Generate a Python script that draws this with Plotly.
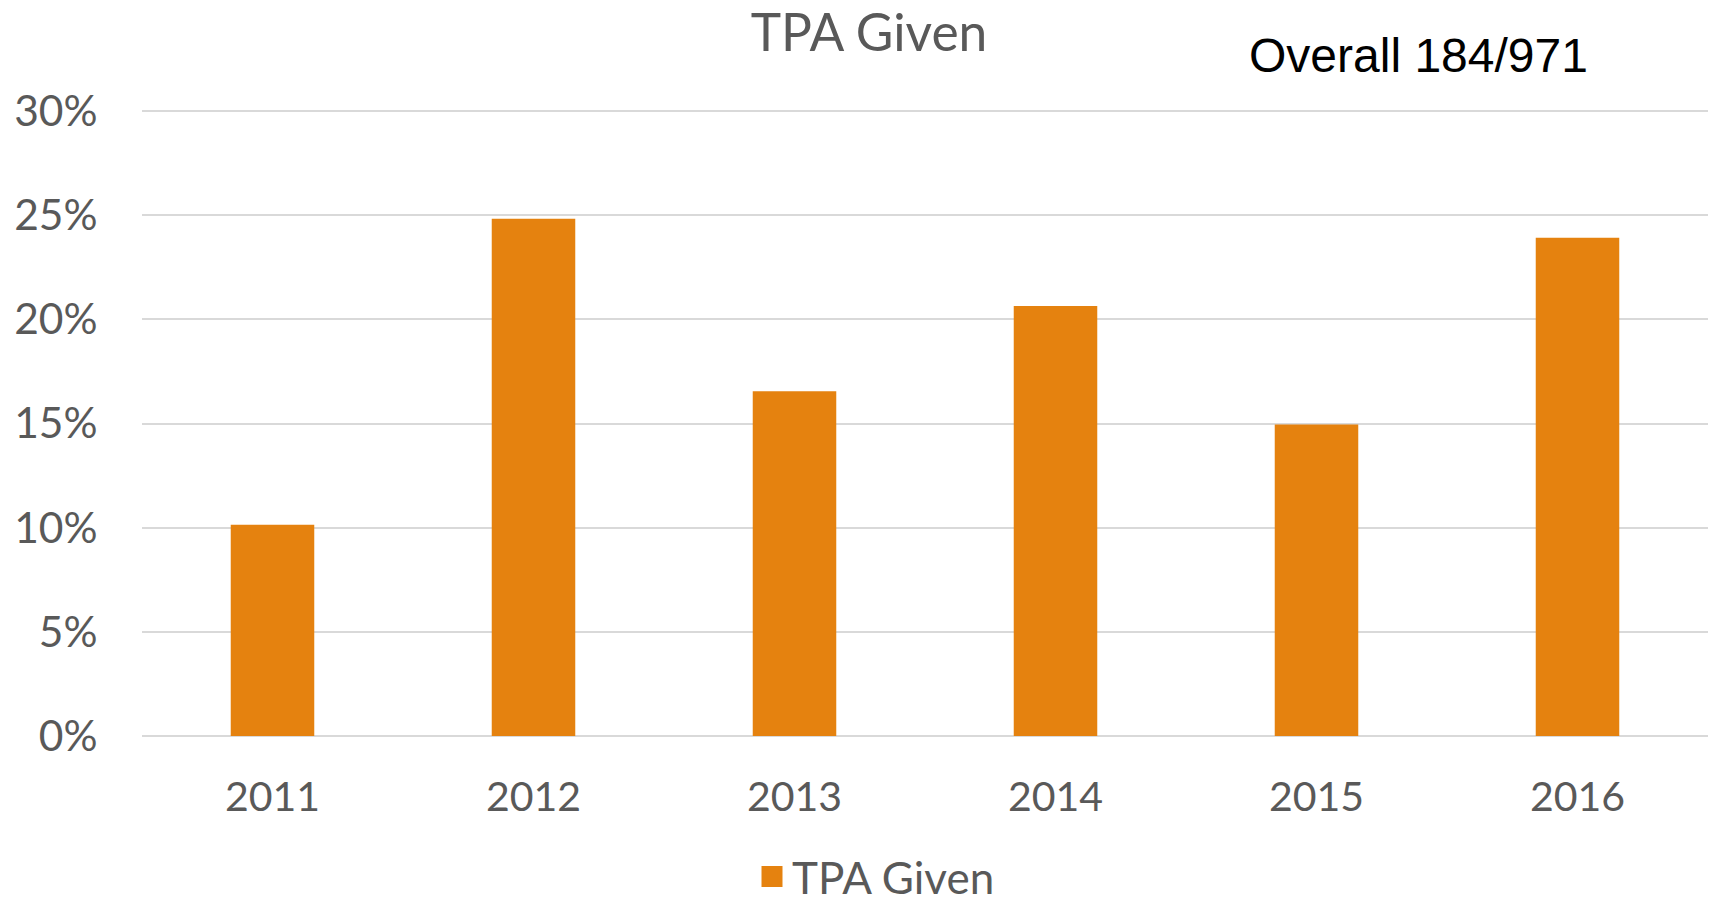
import plotly.graph_objects as go

years = ["2011", "2012", "2013", "2014", "2015", "2016"]
tpa_given = [0.1014, 0.2484, 0.1655, 0.2064, 0.1495, 0.2392]
y_ticks = [0, 0.05, 0.10, 0.15, 0.20, 0.25, 0.30]
y_tick_labels = ["0%", "5%", "10%", "15%", "20%", "25%", "30%"]

BAR = "#E5820F"
TXT = "#595959"
FONT = "Lato"

YMAX = 0.302
PXU = 624 / 0.30  # px per unit on y
W, H = 1709, 897
L = 142
T = round(111 - (YMAX - 0.30) * PXU)
B = H - 736
R = 1
PW = W - L - R
PH = H - T - B

fig = go.Figure()
fig.add_trace(go.Bar(
    x=years, y=tpa_given, name="TPA Given", marker=dict(color=BAR, line=dict(width=0)),
    width=0.32, showlegend=False,
))
fig.add_trace(go.Scatter(
    x=[None], y=[None], mode="markers", name="TPA Given",
    marker=dict(symbol="square", size=26, color=BAR, line=dict(color=BAR, width=5)),
    showlegend=True,
))

fig.update_layout(
    width=W, height=H,
    margin=dict(l=L, r=R, t=T, b=B, autoexpand=False),
    paper_bgcolor="white", plot_bgcolor="white",
    font=dict(family=FONT, color=TXT, size=41),
    title=dict(text="TPA Given", x=869 / W, xanchor="center", xref="container",
               y=1 - 33 / H, yanchor="middle", yref="container",
               font=dict(family=FONT, size=51.5, color=TXT)),
    xaxis=dict(showgrid=False, showline=False, zeroline=False,
               ticks="outside", ticklen=25, tickcolor="rgba(0,0,0,0)",
               tickfont=dict(family=FONT, size=41, color=TXT)),
    yaxis=dict(range=[0, YMAX], tickvals=y_ticks, ticktext=y_tick_labels,
               showgrid=True, gridcolor="#D9D9D9", gridwidth=2,
               zeroline=True, zerolinecolor="#D9D9D9", zerolinewidth=2,
               showline=False, ticks="outside", ticklen=35, tickcolor="rgba(0,0,0,0)",
               tickfont=dict(family=FONT, size=42.5, color=TXT)),
    legend=dict(orientation="h", x=(876 - 142) / PW, xanchor="center",
                y=(736 - 877) / PH, yanchor="middle",
                font=dict(family=FONT, size=44, color=TXT), itemwidth=30),
    showlegend=True,
    annotations=[dict(text="Overall 184/971", xref="paper", yref="paper",
                      x=(1418 - 142) / PW, y=(736 - 55) / PH, xanchor="center", yanchor="middle",
                      showarrow=False, font=dict(family="Liberation Sans", size=48, color="black"))],
)

fig.write_html("out.html", config={"displayModeBar": False},
               post_script="document.body.style.margin='0';document.body.style.overflow='hidden';")
